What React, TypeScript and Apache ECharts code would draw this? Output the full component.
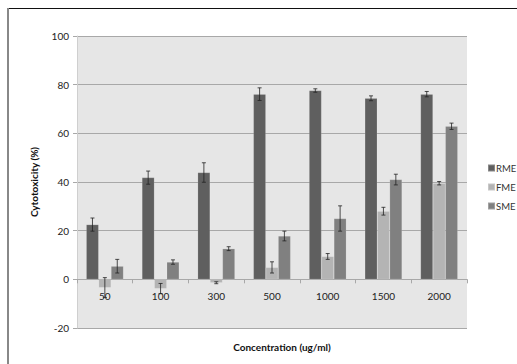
import React, { useEffect, useRef } from "react";
import * as echarts from "echarts";

const categories = ["50", "100", "300", "500", "1000", "1500", "2000"];
const seriesNames = ["RME", "FME", "SME"];
const rme = [22.5, 41.8, 43.9, 76.1, 77.6, 74.4, 76.1];
const rmeErr = [2.7, 2.7, 4.0, 2.6, 0.7, 1.0, 1.1];
const fme = [-3.4, -3.8, -1.4, 4.9, 9.4, 28.0, 39.5];
const fmeErr = [4.1, 2.1, 0.4, 2.3, 1.2, 1.6, 0.7];
const sme = [5.4, 7.1, 12.6, 17.8, 25.0, 41.0, 62.9];
const smeErr = [2.8, 0.9, 0.8, 2.0, 5.2, 2.2, 1.3];
const yTicks = { min: -20, max: 100, interval: 20 };

const colors = ["#5f5f5f", "#b4b4b4", "#808080"];
const BAR_W = 12.4;
const GRID_TOP = 36;
const GRID_BOTTOM = 36;
const HEIGHT = 364;

export default function App() {
  const ref = useRef<HTMLDivElement>(null);
  useEffect(() => {
    if (!ref.current) return;
    const chart = echarts.init(ref.current, null, { renderer: "svg" });
    const values = [rme, fme, sme];
    const errs = [rmeErr, fmeErr, smeErr];
    const errData: number[][] = [];
    values.forEach((vals, s) => {
      vals.forEach((v, i) => {
        errData.push([i, v - errs[s][i], v + errs[s][i], s]);
      });
    });
    const gridH = HEIGHT - GRID_TOP - GRID_BOTTOM;
    const zeroOffset = -(gridH * (0 - yTicks.min)) / (yTicks.max - yTicks.min);
    chart.setOption({
      animation: false,
      textStyle: { fontFamily: "Lato" },
      grid: {
        left: 77,
        right: 50,
        top: GRID_TOP,
        bottom: GRID_BOTTOM,
        show: true,
        backgroundColor: "#e6e6e6",
        borderWidth: 0,
      },
      legend: {
        orient: "vertical",
        left: 487,
        top: 163,
        padding: 0,
        itemWidth: 7,
        itemHeight: 7,
        itemGap: 9,
        icon: "rect",
        data: seriesNames,
        textStyle: { fontSize: 9.5, color: "#333", padding: [0, 0, 0, -4] },
      },
      xAxis: {
        type: "category",
        data: categories,
        offset: zeroOffset,
        axisLine: { onZero: false, lineStyle: { color: "#a8a8a8", width: 1 } },
        axisTick: { show: true, length: 4, lineStyle: { color: "#a8a8a8" } },
        axisLabel: { fontSize: 10, color: "#222", margin: 12 },
      },
      yAxis: {
        type: "value",
        min: yTicks.min,
        max: yTicks.max,
        interval: yTicks.interval,
        axisLine: { show: true, lineStyle: { color: "#cfcfcf" } },
        axisTick: { show: true, length: 4, lineStyle: { color: "#a8a8a8" } },
        axisLabel: { fontSize: 10, color: "#222", margin: 8 },
        splitLine: { lineStyle: { color: "#a8a8a8", width: 1 } },
        name: "Cytotoxicity (%)",
        nameLocation: "middle",
        nameGap: 38,
        nameTextStyle: { fontSize: 10, fontWeight: "bold", color: "#111" },
      },
      graphic: [
        {
          type: "line",
          shape: { x1: 8, y1: 8.5, x2: 517, y2: 8.5 },
          style: { stroke: "#111", lineWidth: 1.2 },
        },
        {
          type: "line",
          shape: { x1: 8, y1: 8, x2: 8, y2: 364 },
          style: { stroke: "#888", lineWidth: 2 },
        },
        {
          type: "text",
          x: 282,
          y: 347,
          style: {
            text: "Concentration (ug/ml)",
            fontSize: 10,
            fontWeight: "bold",
            fill: "#111",
            fontFamily: "Lato",
            align: "center",
            verticalAlign: "middle",
          },
        },
      ],
      series: [
        ...seriesNames.map((name, s) => ({
          name,
          type: "bar",
          data: values[s],
          barWidth: BAR_W,
          barGap: "0%",
          itemStyle: { color: colors[s], borderColor: "rgba(255,255,255,0.25)", borderWidth: 0.5 },
        })),
        {
          type: "custom",
          data: errData,
          z: 10,
          renderItem: (params: any, api: any) => {
            const cat = api.value(0);
            const lo = api.value(1);
            const hi = api.value(2);
            const s = api.value(3);
            const off = (s - 1) * BAR_W;
            const pLo = api.coord([cat, lo]);
            const pHi = api.coord([cat, hi]);
            const x = pLo[0] + off;
            const cap = 2;
            const st = { stroke: "#222", lineWidth: 0.8 };
            return {
              type: "group",
              children: [
                { type: "line", shape: { x1: x, y1: pLo[1], x2: x, y2: pHi[1] }, style: st },
                { type: "line", shape: { x1: x - cap, y1: pLo[1], x2: x + cap, y2: pLo[1] }, style: st },
                { type: "line", shape: { x1: x - cap, y1: pHi[1], x2: x + cap, y2: pHi[1] }, style: st },
              ],
            };
          },
        },
      ],
    });
    return () => chart.dispose();
  }, []);
  return (
    <div
      ref={ref}
      style={{ position: "absolute", left: 0, top: 0, width: 517, height: 364, background: "#fff" }}
    />
  );
}
